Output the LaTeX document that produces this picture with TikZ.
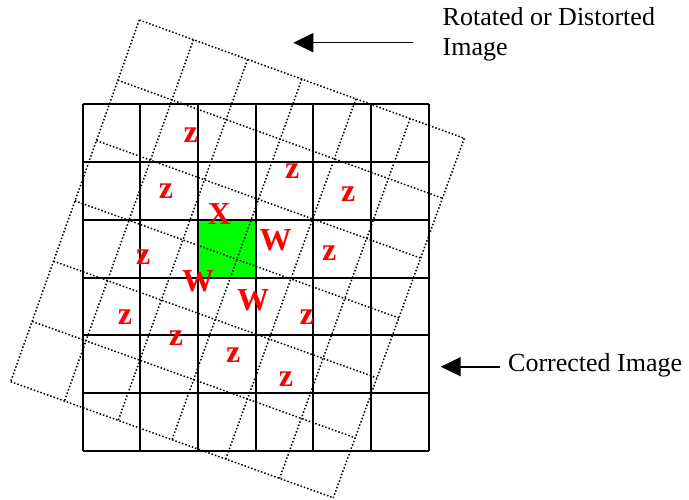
\documentclass[tikz,border=0pt]{standalone}
\usepackage{fontspec}
\setmainfont{Liberation Serif}
\usetikzlibrary{calc,arrows.meta}
\definecolor{cellgreen}{RGB}{0,255,0}
\tikzset{
  gridline/.style={line width=2pt,black},
  rotline/.style={line width=1.5pt,dash pattern=on 1.5pt off 2pt,black},
  letter/.style={text=red,font=\fontsize{32}{32}\selectfont\bfseries,inner sep=0pt},
  label/.style={font=\fontsize{26}{30.5}\selectfont,inner sep=0pt},
  pointer/.style={line width=1.6pt,-{Triangle[length=20pt,width=19pt]}}
}
\begin{document}
\begin{tikzpicture}[x=1pt,y=-1pt]
\useasboundingbox (0,0) rectangle (689,500);
% green cell
\fill[cellgreen] (197.9,219.9) rectangle (255.6,277.6);
% corrected (regular) grid
\foreach \k in {0,...,6}{
  \draw[gridline] ({82.5+57.7*\k},104.5) -- ({82.5+57.7*\k},450.7);
  \draw[gridline] (82.5,{104.5+57.7*\k}) -- (428.7,{104.5+57.7*\k});
}
% rotated grid corners
\coordinate (A) at (139.3,20);
\coordinate (B) at (464.3,138.3);
\coordinate (C) at (333.3,497.7);
\coordinate (D) at (10.7,381.7);
\foreach \k in {0,...,6}{
  \draw[rotline] ($(A)!\k/6!(D)$) -- ($(B)!\k/6!(C)$);
  \draw[rotline] ($(A)!\k/6!(B)$) -- ($(D)!\k/6!(C)$);
}
% letters
\node[letter] (z1) at (190.7,135) {z};
\node[letter] (z2) at (292.3,171) {z};
\node[letter] (z3) at (166,191) {z};
\node[letter] (z4) at (348.3,194) {z};
\node[letter] (x1) at (219.5,214.5) {X};
\node[letter] (w1) at (275.5,240) {W};
\node[letter] (z5) at (329.3,253.5) {z};
\node[letter] (z6) at (143.3,257) {z};
\node[letter] (w2) at (198,281) {W};
\node[letter] (w3) at (253,300.5) {W};
\node[letter] (z7) at (125,317) {z};
\node[letter] (z8) at (306.7,317) {z};
\node[letter] (z9) at (176,337.7) {z};
\node[letter] (z10) at (233.3,355.3) {z};
\node[letter] (z11) at (286,378.7) {z};
% labels and arrows
\node[label,anchor=base west] (rot1) at (442.5,25.3) {Rotated or Distorted};
\node[label,anchor=base west] (rot2) at (442.5,56) {Image};
\coordinate (rs) at (413,42.7);
\coordinate (rt) at (293.3,42.7);
\draw[pointer] (rs) -- (rt);
\node[label,anchor=base west] (cor) at (508,371.7) {Corrected Image};
\coordinate (cs) at (500,366.7);
\coordinate (ct) at (440.7,366.7);
\draw[pointer] (cs) -- (ct);
\end{tikzpicture}
\end{document}
